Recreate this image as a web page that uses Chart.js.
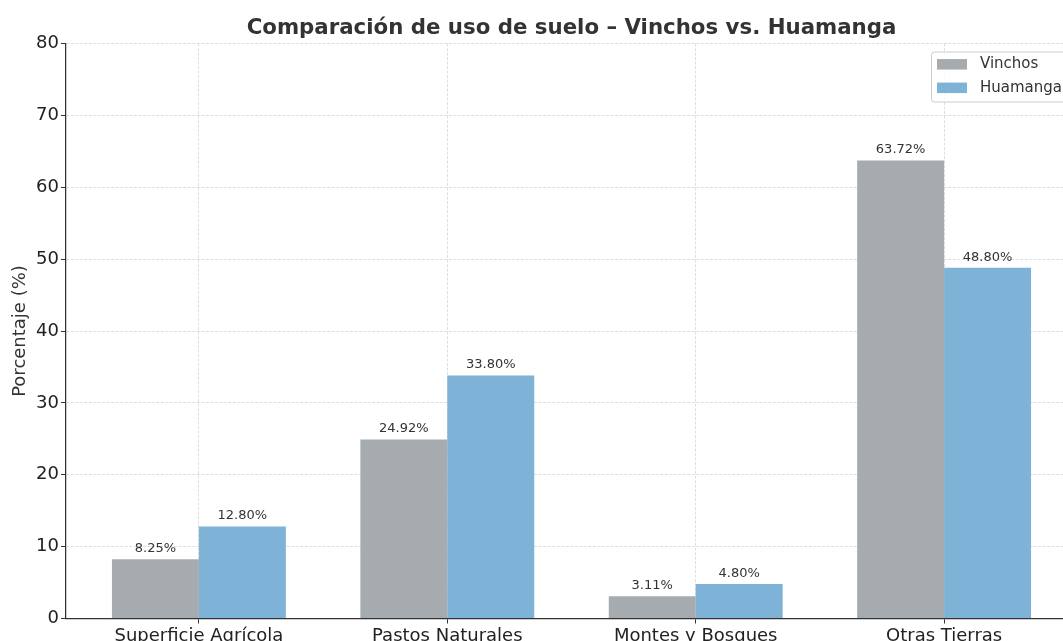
<!DOCTYPE html>
<html>
<head>
<meta charset="utf-8">
<script src="https://cdn.jsdelivr.net/npm/chart.js@4.4.0/dist/chart.umd.min.js"></script>
<style>
  html, body { margin: 0; padding: 0; overflow: hidden; background: #fff; width: 1063px; height: 641px; }
</style>
</head>
<body>
<canvas id="myChart" width="1143" height="680"></canvas>
<script>
// data
const categories = ["Superficie Agrícola", "Pastos Naturales", "Montes y Bosques", "Otras Tierras"];
const vinchos = [8.25, 24.92, 3.11, 63.72];
const huamanga = [12.80, 33.80, 4.80, 48.80];
const seriesNames = ["Vinchos", "Huamanga"];
const yMin = 0, yMax = 80, yStep = 10;

const FONT = "DejaVu Sans";
const gridColor = "#d6d6d6";

// value labels on top of bars
const barLabels = {
    id: "barLabels",
    afterDatasetsDraw(chart) {
        const ctx = chart.ctx;
        ctx.save();
        ctx.font = `13px "${FONT}"`;
        ctx.fillStyle = "#333";
        ctx.textAlign = "center";
        ctx.textBaseline = "bottom";
        chart.data.datasets.forEach((ds, i) => {
            chart.getDatasetMeta(i).data.forEach((bar, j) => {
                ctx.fillText(ds.data[j].y.toFixed(2) + "%", bar.x, bar.y - 4);
            });
        });
        ctx.restore();
    }
};

// legend inside the plot, upper right
const legendInside = {
    id: "legendInside",
    afterDraw(chart) {
        const { ctx, chartArea } = chart;
        const w = 139, h = 50;
        const left = chartArea.right - 7 - w;
        const top = chartArea.top + 8;
        ctx.save();
        ctx.fillStyle = "rgba(255,255,255,0.8)";
        ctx.strokeStyle = "#cccccc";
        ctx.lineWidth = 1;
        ctx.beginPath();
        ctx.roundRect(left + 0.5, top + 0.5, w, h, 3);
        ctx.fill();
        ctx.stroke();
        ctx.font = `15px "${FONT}"`;
        ctx.textBaseline = "middle";
        ctx.textAlign = "left";
        chart.data.datasets.forEach((ds, i) => {
            const cy = top + 12.5 + i * 23.5;
            ctx.fillStyle = ds.backgroundColor;
            ctx.fillRect(left + 6, cy - 5, 30, 10.5);
            ctx.fillStyle = "#333";
            ctx.fillText(ds.label, left + 49, cy + 0.5);
        });
        ctx.restore();
    }
};

const chart = new Chart("myChart", {
    type: "bar",
    data: {
        datasets: [
            {
                label: seriesNames[0],
                data: vinchos.map((v, i) => ({ x: i, y: v })),
                backgroundColor: "#a6abaf",
                borderWidth: 0
            },
            {
                label: seriesNames[1],
                data: huamanga.map((v, i) => ({ x: i, y: v })),
                backgroundColor: "#7eb2d6",
                borderWidth: 0
            }
        ]
    },
    options: {
        responsive: false,
        animation: false,
        devicePixelRatio: 1,
        categoryPercentage: 0.7,
        barPercentage: 1.0,
        layout: { padding: { left: 0, right: 0, top: 0, bottom: 1.5 } },
        plugins: {
            legend: { display: false },
            tooltip: { enabled: false },
            title: {
                display: true,
                text: "Comparación de uso de suelo – Vinchos vs. Huamanga",
                color: "#333",
                font: { family: FONT, size: 21.3, weight: "bold" },
                padding: { top: 16, bottom: 2 }
            }
        },
        scales: {
            x: {
                type: "linear",
                offset: false,
                min: -0.535,
                max: 3.535,
                afterBuildTicks: s => { s.ticks = categories.map((c, i) => ({ value: i })); },
                afterFit: s => { s.height = 60; },
                ticks: {
                    callback: v => categories[v],
                    autoSkip: false,
                    maxRotation: 0,
                    color: "#222",
                    font: { family: FONT, size: 18 },
                    padding: 2
                },
                grid: {
                    offset: false,
                    color: gridColor,
                    lineWidth: 0.8,
                    borderDash: [3, 1.5],
                    tickLength: 5,
                    tickColor: "#333",
                    tickWidth: 1,
                    tickBorderDash: []
                },
                border: { color: "#333", width: 1.25, dash: [3, 1.5] }
            },
            y: {
                min: yMin,
                max: yMax,
                afterFit: s => { s.width = 66; },
                ticks: {
                    stepSize: yStep,
                    color: "#222",
                    font: { family: FONT, size: 18 },
                    padding: 2
                },
                title: {
                    display: true,
                    text: "Porcentaje (%)",
                    color: "#333",
                    font: { family: FONT, size: 18 },
                    padding: { top: 10, bottom: 0 }
                },
                grid: {
                    color: gridColor,
                    lineWidth: 0.8,
                    borderDash: [3, 1.5],
                    tickLength: 5,
                    tickColor: "#333",
                    tickWidth: 1,
                    tickBorderDash: []
                },
                border: { color: "#333", width: 1.25, dash: [3, 1.5] }
            },
            // empty right axis so the title centres over the plot like the original
            yRight: {
                position: "right",
                min: yMin,
                max: yMax,
                afterFit: s => { s.width = 66; },
                ticks: { display: false },
                grid: { display: false, drawTicks: false },
                border: { display: false }
            }
        }
    },
    plugins: [barLabels, legendInside]
});
</script>
</body>
</html>
